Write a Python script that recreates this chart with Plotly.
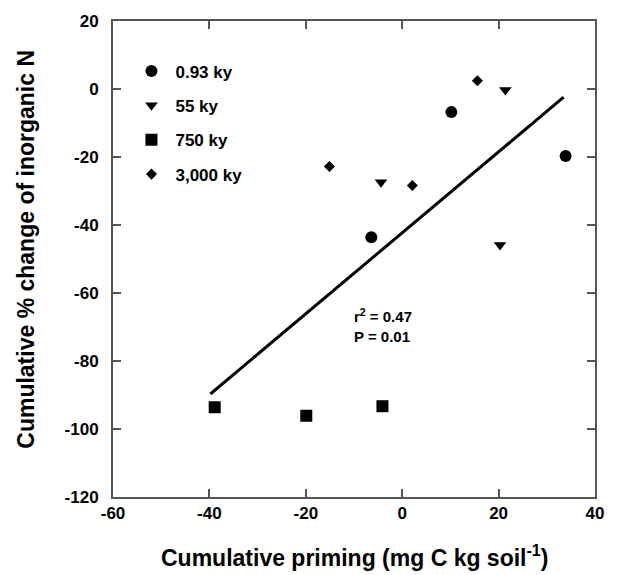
import plotly.graph_objects as go

# ---- data ----
ky093_x = [10.2, 33.9, -6.4]
ky093_y = [-6.8, -19.7, -43.6]
ky55_x = [21.4, -4.4, 20.3]
ky55_y = [-0.3, -27.4, -45.9]
ky750_x = [-38.9, -19.9, -4.1]
ky750_y = [-93.6, -96.1, -93.3]
ky3000_x = [-15.1, 2.1, 15.6]
ky3000_y = [-22.8, -28.4, 2.4]
fit_x = [-39.8, 33.5]
fit_y = [-89.7, -2.4]
series_names = ["0.93 ky", "55 ky", "750 ky", "3,000 ky"]
x_ticks = [-60, -40, -20, 0, 20, 40]
x_ticklabels = ["-60", "-40", "-20", "0", "20", "40"]
y_ticks = [20, 0, -20, -40, -60, -80, -100, -120]
y_ticklabels = ["20", "0", "-20", "-40", "-60", "-80", "-100", "-120"]

FONT = "Liberation Sans, Arial, Helvetica, sans-serif"
AX = "#555555"

fig = go.Figure()
fig.add_trace(go.Scatter(x=fit_x, y=fit_y, mode="lines", line=dict(color="black", width=3),
                         showlegend=False, hoverinfo="skip"))
specs = [
    (ky093_x, ky093_y, "circle", 12),
    (ky55_x, ky55_y, "triangle-down", 11),
    (ky750_x, ky750_y, "square", 12),
    (ky3000_x, ky3000_y, "diamond", 8.5),
]
for name, (xs, ys, sym, sz) in zip(series_names, specs):
    fig.add_trace(go.Scatter(x=xs, y=ys, mode="markers", name=name, legendgroup=name,
                             marker=dict(symbol=sym, size=sz, color="black",
                                         line=dict(width=0))))

axis_common = dict(showgrid=False, zeroline=False, showline=True, linecolor=AX, linewidth=2,
                   mirror="ticks", ticks="inside", ticklen=8, tickwidth=1.5, tickcolor=AX,
                   tickfont=dict(family=FONT, size=17, color="black", weight="bold"))
fig.update_xaxes(range=[-60, 40], tickvals=x_ticks, ticktext=x_ticklabels,
                 ticklabelstandoff=0, **axis_common)
fig.update_yaxes(range=[-120, 20], tickvals=y_ticks, ticktext=y_ticklabels,
                 ticklabelstandoff=9, **axis_common)

fig.add_annotation(x=-10.4, y=-69.7, xref="x", yref="y", xanchor="left", yanchor="middle",
                   align="left", showarrow=False,
                   text="r<sup>2</sup> = 0.47<br>P = 0.01",
                   font=dict(family=FONT, size=15, color="black", weight="bold"))
fig.add_annotation(x=0.5, y=-0.124, xref="paper", yref="paper", xanchor="center", yanchor="middle",
                   showarrow=False, text="Cumulative priming (mg C kg soil<sup>-1</sup>)",
                   font=dict(family=FONT, size=23, color="black", weight="bold"))
fig.add_annotation(x=-0.18, y=0.52, xref="paper", yref="paper", xanchor="center", yanchor="middle",
                   showarrow=False, textangle=-90, text="Cumulative % change of inorganic N",
                   font=dict(family=FONT, size=23, color="black", weight="bold"))

fig.update_layout(
    width=618, height=575,
    margin=dict(l=113, r=23, t=21, b=78),
    plot_bgcolor="white", paper_bgcolor="white",
    showlegend=True,
    legend=dict(x=0.03, y=0.932, xanchor="left", yanchor="top", bgcolor="rgba(0,0,0,0)",
                font=dict(family=FONT, size=17, color="black", weight="bold"),
                tracegroupgap=9.3, itemwidth=38),
)
fig.write_html("out.html", config={"displayModeBar": False},
               post_script="document.body.style.margin='0';")
